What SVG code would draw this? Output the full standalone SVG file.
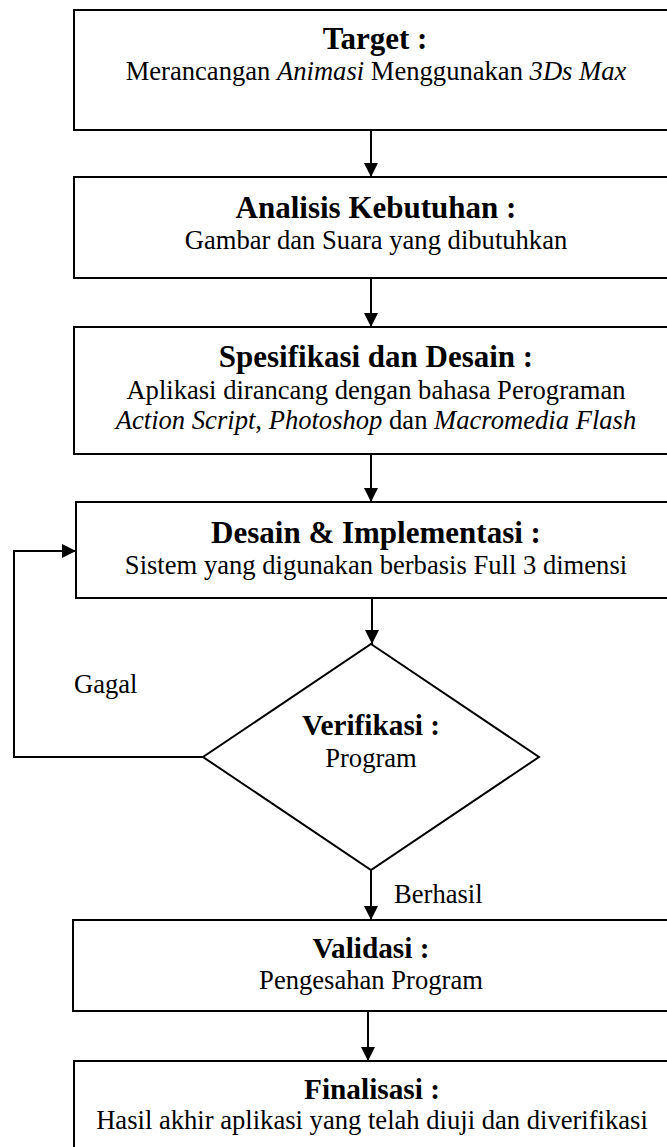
<svg xmlns="http://www.w3.org/2000/svg" width="667" height="1147" viewBox="0 0 667 1147">
<style>
.box{fill:#fff;stroke:#000;stroke-width:2}
.ln{fill:none;stroke:#000;stroke-width:2}
text{font-family:"Liberation Serif","Times New Roman",serif;fill:#000}
.t{font-size:31px;font-weight:bold;text-anchor:middle}
.t2{font-size:29.3px;font-weight:bold;text-anchor:middle}
.s{font-size:26.6px;text-anchor:middle}
.l{font-size:26.6px}
.i{font-style:italic}
</style>
<defs>
<marker id="ah" viewBox="0 0 14 14" refX="14" refY="7" markerWidth="14" markerHeight="14" markerUnits="userSpaceOnUse" orient="auto">
<path d="M0,0 L14,7 L0,14 Z" fill="#000"/>
</marker>
</defs>
<rect width="667" height="1147" fill="#fff"/>
<g id="connectors">
<line class="ln" x1="371" y1="130" x2="371" y2="177" marker-end="url(#ah)"/>
<line class="ln" x1="371" y1="278" x2="371" y2="327" marker-end="url(#ah)"/>
<line class="ln" x1="371" y1="454" x2="371" y2="502" marker-end="url(#ah)"/>
<line class="ln" x1="372" y1="598" x2="372" y2="644" marker-end="url(#ah)"/>
<line class="ln" x1="371" y1="870" x2="371" y2="920" marker-end="url(#ah)"/>
<line class="ln" x1="368" y1="1011" x2="368" y2="1061" marker-end="url(#ah)"/>
<polyline class="ln" points="203,757 14,757 14,551 76,551" marker-end="url(#ah)"/>
<text class="l" x="74" y="693">Gagal</text>
<text class="l" x="394" y="903">Berhasil</text>
</g>
<g id="target">
<rect class="box" x="74" y="10" width="610" height="120"/>
<text class="t" x="375" y="49">Target :</text>
<text class="s" x="376" y="80">Merancangan <tspan class="i">Animasi</tspan> Menggunakan <tspan class="i">3Ds Max</tspan></text>
</g>
<g id="analisis">
<rect class="box" x="74" y="177" width="610" height="101"/>
<text class="t" x="376" y="218">Analisis Kebutuhan :</text>
<text class="s" x="376" y="249">Gambar dan Suara yang dibutuhkan</text>
</g>
<g id="spesifikasi">
<rect class="box" x="74" y="327" width="610" height="127"/>
<text class="t" x="376" y="367">Spesifikasi dan Desain :</text>
<text class="s" x="376" y="399">Aplikasi dirancang dengan bahasa Perograman</text>
<text class="s" x="376" y="429"><tspan class="i">Action Script</tspan>, <tspan class="i">Photoshop</tspan> dan <tspan class="i">Macromedia Flash</tspan></text>
</g>
<g id="desain">
<rect class="box" x="76" y="502" width="610" height="96"/>
<text class="t" x="376" y="543">Desain &amp; Implementasi :</text>
<text class="s" x="376" y="574">Sistem yang digunakan berbasis Full 3 dimensi</text>
</g>
<g id="verifikasi">
<polygon class="box" points="371,644 539,757 371,870 203,757"/>
<text class="t2" x="371" y="735">Verifikasi :</text>
<text class="s" x="371" y="767">Program</text>
</g>
<g id="validasi">
<rect class="box" x="73" y="920" width="610" height="91"/>
<text class="t2" x="371" y="958">Validasi :</text>
<text class="s" x="371" y="989">Pengesahan Program</text>
</g>
<g id="finalisasi">
<rect class="box" x="74" y="1061" width="610" height="110"/>
<text class="t2" x="372" y="1099">Finalisasi :</text>
<text class="s" x="372" y="1129">Hasil akhir aplikasi yang telah diuji dan diverifikasi</text>
</g>
</svg>
